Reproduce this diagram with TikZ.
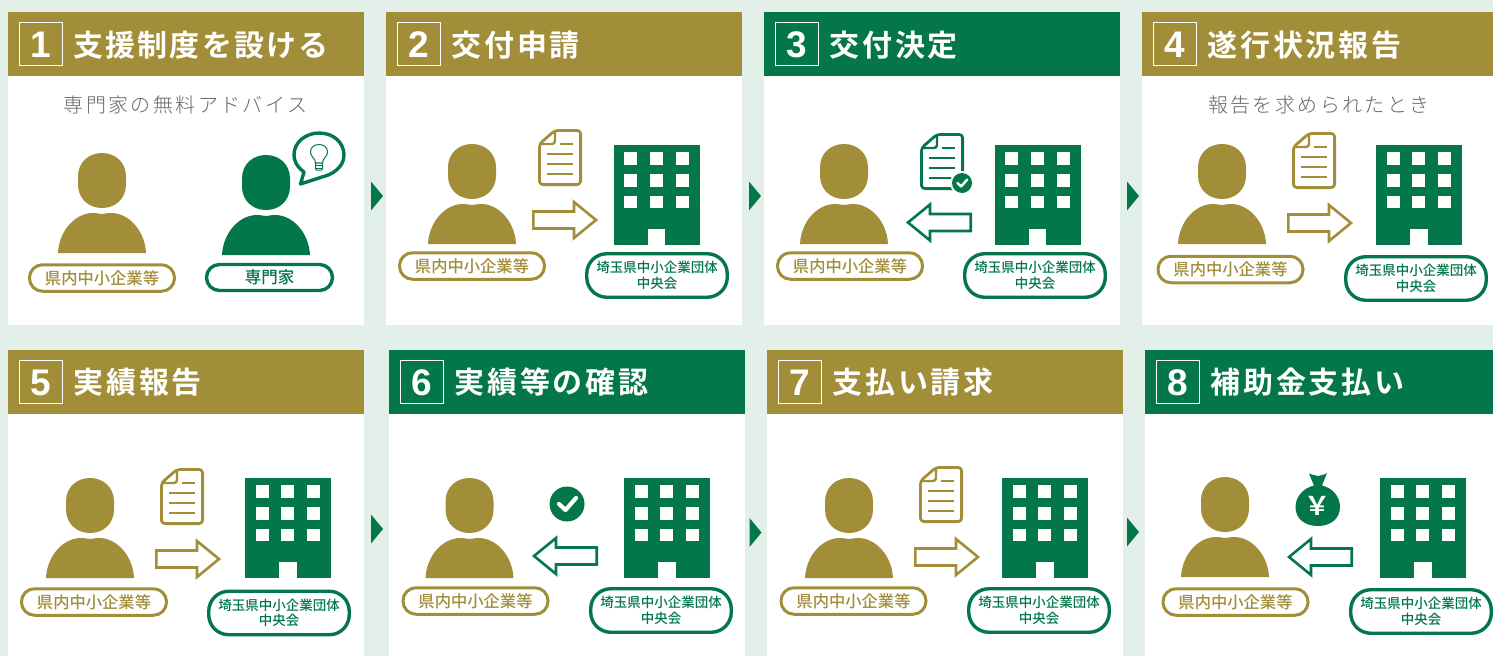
\documentclass[tikz,border=0pt]{standalone}
\usepackage{fontspec}
\setmainfont{Noto Sans CJK JP}
\newfontfamily\ttl[LetterSpace=9]{Noto Sans CJK JP Bold}
\newfontfamily\ttlb[LetterSpace=7]{Noto Sans CJK JP Bold}
\newfontfamily\nmb{Liberation Sans Bold}
\newfontfamily\med{Noto Sans CJK JP Medium}
\newfontfamily\jpb{Noto Sans CJK JP Bold}
\newfontfamily\sub[LetterSpace=12]{Noto Sans CJK JP Light}
\definecolor{bgc}{HTML}{E3F0EA}
\definecolor{gold}{HTML}{A28E39}
\definecolor{grn}{HTML}{03774A}
\definecolor{gry}{HTML}{666666}
\tikzset{
 x=1pt,y=-1pt,
 pillg/.style={draw=gold,line width=3pt,fill=white,rounded corners=13pt,minimum width=145pt,minimum height=26.5pt,text=gold,inner sep=0pt,font=\med\fontsize{16.3}{16.3}\selectfont},
 pilly/.style={draw=grn,line width=3.4pt,fill=white,rounded corners=20pt,minimum width=140.5pt,minimum height=43.5pt,text=grn,inner sep=0pt,align=center,font=\med\fontsize{13.5}{15.5}\selectfont},
 pille/.style={pilly,rounded corners=13pt,minimum width=126pt,minimum height=26pt,font=\med\fontsize{16.5}{16.5}\selectfont},
 titletext/.style={anchor=west,text=white,inner sep=0pt,font=\ttl\fontsize{30}{30}\selectfont},
 numtext/.style={text=white,inner sep=0pt,font=\nmb\fontsize{37}{37}\selectfont},
 numbox/.style={draw=white,line width=1pt,minimum width=43pt,minimum height=43pt,inner sep=0pt},
 subtext/.style={text=gry,inner sep=0pt,font=\sub\fontsize{20}{20}\selectfont},
 tri/.style={fill=grn,draw=none}
}
\newcommand{\person}[4]{% name, cx, top, colour
 \begin{scope}[shift={(#2,#3)}]
  \fill[#4] (-24,23.5) .. controls (-24,9) and (-13,0) .. (0,0) .. controls (13,0) and (24,9) .. (24,23.5)
   -- (24,31.5) .. controls (24,46) and (13,55) .. (0,55) .. controls (-13,55) and (-24,46) .. (-24,31.5) -- cycle;
  \fill[#4] (-44,100) .. controls (-43,78) and (-27,60) .. (-9,60) .. controls (-4,60) and (-3,61) .. (0,61)
   .. controls (3,61) and (4,60) .. (9,60) .. controls (27,60) and (43,78) .. (44,100) -- cycle;
  \coordinate (#1) at (0,50);
 \end{scope}}
\newcommand{\building}[3]{% name,left,top
 \begin{scope}[shift={(#2,#3)}]
  \fill[grn] (0,0) rectangle (86,100);
  \foreach \i in {10.7,36.4,62.1}\foreach \j in {7.4,29,50.7}{\fill[white] (\i,\j) rectangle +(13,12.7);}
  \fill[white] (34.3,84) rectangle (51.7,100);
  \coordinate (#1) at (43,50);
 \end{scope}}
\newcommand{\rarrow}[3]{% left,cy,colour
 \begin{scope}[shift={(#1,#2)}]
  \draw[#3,line width=2.6pt,fill=white,miter limit=10] (1.3,-8.5) -- (42,-8.5) -- (42,-18) -- (64,0) -- (42,18) -- (42,8.5) -- (1.3,8.5) -- cycle;
 \end{scope}}
\newcommand{\larrow}[3]{% right,cy,colour
 \begin{scope}[shift={(#1,#2)}]
  \draw[#3,line width=2.6pt,fill=white,miter limit=10] (-1.3,-8.5) -- (-42,-8.5) -- (-42,-18) -- (-64,0) -- (-42,18) -- (-42,8.5) -- (-1.3,8.5) -- cycle;
 \end{scope}}
\newcommand{\docicon}[3]{% left,top,colour
 \begin{scope}[shift={(#1,#2)}]
  \draw[#3,line width=2.8pt,line join=round,rounded corners=3.5pt] (17,1.4) -- (42.6,1.4) -- (42.6,55.6) -- (1.4,55.6) -- (1.4,15) -- cycle;
  \draw[#3,line width=2.4pt,line join=round,rounded corners=3pt] (17,1.4) -- (17,15) -- (1.4,15);
  \foreach \yy/\xa/\xb in {15/22/35,25/9/35,35/9/35,45/9/35}{\draw[#3,line width=2.6pt] (\xa,\yy) -- (\xb,\yy);}
 \end{scope}}
\newcommand{\checkdisc}[3]{% cx,cy,r
 \fill[grn] (#1,#2) circle (#3);
 \draw[white,line width=#3*0.24pt,line join=round,line cap=round,shift={(#1,#2)},scale=#3/17.5] (-8,0) -- (-1.5,6) -- (9,-6);}
\newcommand{\panel}[5]{% name,x,y,colour,num
 \fill[white] (#2,#3) rectangle +(356,313);
 \fill[#4] (#2,#3) rectangle +(356,64);
 \node[numbox] (#1box) at (#2+33,#3+32) {};
 \node[numtext] (#1num) at (#2+33,#3+33) {#5};
}
\begin{document}
\begin{tikzpicture}
\useasboundingbox (0,0) rectangle (1493,656);
\fill[bgc] (0,0) rectangle (1493,656);
% triangles
\foreach \tx/\ty in {371/196,749/196,1127/196,371/529,749.5/532.5,1127/532}{\fill[tri] (\tx,\ty-14.5) -- (\tx+12,\ty) -- (\tx,\ty+14.5) -- cycle;}
% panel 1
\panel{a}{8}{12}{gold}{1}
\node[titletext,font=\ttlb\fontsize{30}{30}\selectfont] (at) at (73.5,45) {支援制度を設ける};
\node[subtext] (as) at (185.5,105) {専門家の無料アドバイス};
\person{ap}{102}{153}{gold}
\person{aq}{266}{155}{grn}
\node[pillg] (al) at (102,278) {県内中小企業等};
\node[pille] (am) at (269.5,277.5) {専門家};
% bubble
\draw[grn,line width=3.4pt,fill=white,line join=round] (300.5,184) -- (304,172) .. controls (296,166) and (294,160) .. (294,155) .. controls (294,142) and (306,133) .. (319,133) .. controls (334,133) and (344,143) .. (344,155) .. controls (344,168) and (331,175) .. (322,177) -- cycle;
\draw[grn,line width=1pt,fill=white] (315.5,163) .. controls (315.5,158) and (310.5,157) .. (310.5,152) .. controls (310.5,147) and (314.5,144.5) .. (319,144.5) .. controls (323.5,144.5) and (327.5,147) .. (327.5,152) .. controls (327.5,157) and (322.5,158) .. (322.5,163) -- cycle;
\draw[grn,line width=1pt,fill=white,rounded corners=1pt] (315.5,163) rectangle (322.5,170);
\draw[grn,line width=.9pt] (315.5,165.5) -- (322.5,165.5) (315.5,168) -- (322.5,168);
% panel 2
\panel{b}{386}{12}{gold}{2}
\node[titletext] (bt) at (451.5,45) {交付申請};
\person{bp}{472}{144}{gold}
\building{bb}{613.5}{145}
\node[pillg] (bl) at (472,266) {県内中小企業等};
\node[pilly] (bm) at (657,275.5) {埼玉県中小企業団体\\中央会};
\rarrow{532}{220}{gold}
\docicon{538}{129}{gold}
% panel 3
\panel{c}{764}{12}{grn}{3}
\node[titletext] (ct) at (829.5,45) {交付決定};
\person{cp}{844}{144}{gold}
\building{cb}{994.5}{145}
\node[pillg] (cl) at (850,266) {県内中小企業等};
\node[pilly] (cm) at (1035,275.5) {埼玉県中小企業団体\\中央会};
\larrow{972}{222.5}{grn}
\docicon{920}{133}{grn}
\fill[white] (962,183) circle (12);
\checkdisc{962}{183}{10}
% panel 4
\panel{d}{1142}{12}{gold}{4}
\node[titletext] (dt) at (1207.5,45) {遂行状況報告};
\node[subtext] (ds) at (1319,105) {報告を求められたとき};
\person{dp}{1222}{144}{gold}
\building{db}{1376}{145}
\node[pillg] (dl) at (1230.5,269.5) {県内中小企業等};
\node[pilly] (dm) at (1416,278.5) {埼玉県中小企業団体\\中央会};
\rarrow{1287}{223}{gold}
\docicon{1292}{132}{gold}
% panel 5
\panel{e}{8}{350}{gold}{5}
\node[titletext] (et) at (73.5,382) {実績報告};
\person{ep}{90}{478}{gold}
\building{eb}{245}{478}
\node[pillg] (el) at (94,602) {県内中小企業等};
\node[pilly] (em) at (279,613) {埼玉県中小企業団体\\中央会};
\rarrow{155}{559}{gold}
\docicon{160}{468}{gold}
% panel 6
\panel{f}{389}{350}{grn}{6}
\node[titletext] (ft) at (454.5,382) {実績等の確認};
\person{fp}{469.5}{478}{gold}
\building{fb}{624}{478}
\node[pillg] (fl) at (475.5,601) {県内中小企業等};
\node[pilly] (fm) at (661,610.5) {埼玉県中小企業団体\\中央会};
\larrow{598}{556}{grn}
\checkdisc{567}{504}{17.5}
% panel 7
\panel{g}{767}{350}{gold}{7}
\node[titletext] (gt) at (832.5,382) {支払い請求};
\person{gp}{849}{478}{gold}
\building{gb}{1002}{478}
\node[pillg] (gl) at (853.5,601) {県内中小企業等};
\node[pilly] (gm) at (1039,610.5) {埼玉県中小企業団体\\中央会};
\rarrow{914}{557}{gold}
\docicon{919}{466}{gold}
% panel 8
\panel{h}{1145}{350}{grn}{8}
\node[titletext] (ht) at (1210.5,382) {補助金支払い};
\person{hp}{1225}{477}{gold}
\building{hb}{1380}{478}
\node[pillg] (hl) at (1235.5,602) {県内中小企業等};
\node[pilly] (hm) at (1421,611.5) {埼玉県中小企業団体\\中央会};
\larrow{1353}{557}{grn}
% money bag
\fill[grn] (1309,473.5) .. controls (1313,475) and (1316,475.5) .. (1318,476) .. controls (1321,475.5) and (1325,474.5) .. (1327,473) -- (1322,485.5) .. controls (1333,488) and (1340,497) .. (1340,507) .. controls (1340,519) and (1330,526) .. (1318,526) .. controls (1305,526) and (1295.5,519) .. (1295.5,507) .. controls (1295.5,497) and (1303,488) .. (1314,485.5) -- cycle;
\node[text=white,inner sep=0pt,font=\jpb\fontsize{26}{26}\selectfont] (hy) at (1317.5,506) {￥};
\end{tikzpicture}
\end{document}
